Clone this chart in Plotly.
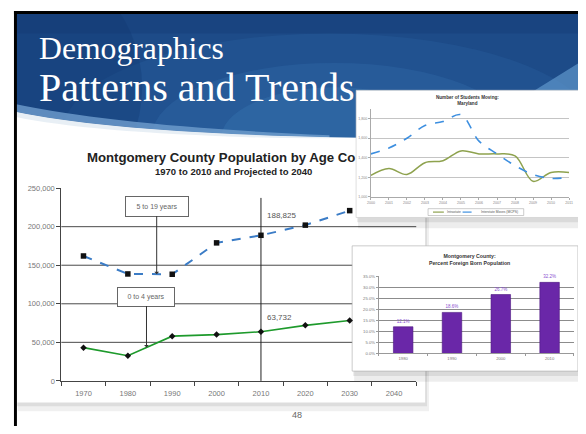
import plotly.graph_objects as go

# the page body adds an 8px margin on every side; keep the page at 586x434
OFF = 8
W, H = 586 - 2 * OFF, 434 - 2 * OFF

# Montgomery County population by age cohort (main chart)
years = [1970, 1980, 1990, 2000, 2010, 2020, 2030, 2040]
age_5_19 = [162000, 138700, 138300, 179000, 188825, 202000, 220800]
age_0_4 = [43100, 32600, 58000, 60000, 63732, 72000, 78300]
pop_ticks = [0, 50000, 100000, 150000, 200000, 250000]

# Number of students moving, Maryland (top inset)
move_years = ["2000", "2001", "2002", "2003", "2004", "2005",
              "2006", "2007", "2008", "2009", "2010", "2011"]
move_out = [1440, 1500, 1600, 1730, 1770, 1840, 1570, 1440, 1320, 1230, 1190, 1200]
move_in = [1220, 1290, 1230, 1350, 1370, 1470, 1440, 1440, 1420, 1160, 1250, 1250]
move_ticks = [1000, 1200, 1400, 1600, 1800]
move_names = ["Intrastate", "Interstate Moves (MCPS)"]

# Percent foreign born population (bottom inset)
foreign_years = ["1980", "1990", "2000", "2010"]
foreign_pct = [12.1, 18.6, 26.7, 32.2]

SANS = "Liberation Sans, Arial, sans-serif"
SERIF = "Liberation Serif, Times New Roman, serif"


def fx(x):
    return (x - OFF) / W


def fy(y):
    return 1 - (y - OFF) / H


def rect(x0, y0, x1, y1, fill, opacity=1, line_color=None, line_width=0, layer="below"):
    return dict(
        type="rect", xref="paper", yref="paper",
        x0=fx(x0), x1=fx(x1), y0=fy(y1), y1=fy(y0),
        fillcolor=fill, opacity=opacity, layer=layer,
        line=dict(width=line_width, color=line_color or "rgba(0,0,0,0)"),
    )


def ellipse(x0, y0, x1, y1, fill, opacity):
    return dict(
        type="circle", xref="paper", yref="paper",
        x0=fx(x0), x1=fx(x1), y0=fy(y1), y1=fy(y0),
        fillcolor=fill, opacity=opacity, layer="below", line=dict(width=0),
    )


def path(fill, *items, opacity=1):
    parts = []
    for item in items:
        if isinstance(item, str):
            parts.append(item)
        else:
            parts.append(f"{fx(item[0]):.4f},{fy(item[1]):.4f}")
    return dict(
        type="path", xref="paper", yref="paper", path=" ".join(parts),
        fillcolor=fill, opacity=opacity, layer="below", line=dict(width=0),
    )


def hline(x0, x1, y, color, width=1, dash="solid", layer="below"):
    return dict(
        type="line", xref="paper", yref="paper",
        x0=fx(x0), x1=fx(x1), y0=fy(y), y1=fy(y),
        line=dict(color=color, width=width, dash=dash), layer=layer,
    )


def text(s, x, y, size, color, family=SANS, xanchor="center"):
    return dict(text=s, x=fx(x), y=fy(y), xref="paper", yref="paper",
                xanchor=xanchor, yanchor="middle", showarrow=False,
                font=dict(family=family, size=size, color=color))


def interp(xs, ys, x):
    for i in range(len(ys) - 1):
        if xs[i] <= x <= xs[i + 1]:
            t = (x - xs[i]) / (xs[i + 1] - xs[i])
            return ys[i] + t * (ys[i + 1] - ys[i])
    return ys[-1]


fig = go.Figure()

# main chart
fig.add_trace(go.Scatter(
    x=years[:len(age_5_19)], y=age_5_19, mode="lines+markers",
    line=dict(color="#3b7cc6", width=2, dash="dash"),
    marker=dict(symbol="square", size=5.5, color="#111111"),
    xaxis="x", yaxis="y", cliponaxis=False,
))
fig.add_trace(go.Scatter(
    x=years[:len(age_0_4)], y=age_0_4, mode="lines+markers",
    line=dict(color="#1e9a2c", width=1.6),
    marker=dict(symbol="diamond", size=5, color="#111111"),
    xaxis="x", yaxis="y", cliponaxis=False,
))

# top inset
fig.add_trace(go.Scatter(
    x=move_years, y=move_in, mode="lines", name=move_names[0],
    line=dict(color="#8ea24e", width=1.5, shape="spline", smoothing=1.0),
    xaxis="x2", yaxis="y2",
))
fig.add_trace(go.Scatter(
    x=move_years, y=move_out, mode="lines", name=move_names[1],
    line=dict(color="#3d8fe0", width=1.6, dash="dash", shape="spline", smoothing=1.0),
    xaxis="x2", yaxis="y2",
))

# bottom inset
fig.add_trace(go.Bar(
    x=foreign_years, y=foreign_pct,
    marker=dict(color="#6a27a8", line=dict(color="#4b1680", width=0.6)),
    text=[f"{v:.1f}%" for v in foreign_pct], textposition="outside",
    textfont=dict(size=4.5, color="#8a4fd0", family=SANS),
    xaxis="x3", yaxis="y3", cliponaxis=False,
))

shapes = [
    # header
    rect(11, 9, 583, 150, "#1d4b88"),
    ellipse(60, 30, 600, 230, "#2b63a3", 0.3),
    ellipse(150, 60, 520, 210, "#3471ae", 0.3),
    ellipse(220, 85, 450, 190, "#3d7db9", 0.3),
    ellipse(-160, -60, 140, 230, "#123a72", 0.35),
    rect(11, 9, 583, 30, "#102f66", opacity=0.25),
    # white slide area under the header curve
    path("#ffffff", "M", (11, 110), "Q", (110, 131), (330, 136), "L", (583, 140),
         "L", (583, 434), "L", (11, 434), "Z"),
    # swoosh highlight
    path("#6f9dcd", "M", (11, 102), "Q", (120, 125), (330, 134), "L", (330, 136),
         "Q", (110, 131), (11, 110), "Z", opacity=0.8),
    path("#e6edf4", "M", (11, 110), "Q", (110, 131), (330, 136), "L", (330, 138),
         "Q", (100, 134), (11, 115), "Z", opacity=0.9),
    path("#5f97cc", "M", (535, 90), "L", (583, 60), "L", (583, 90), "Z", opacity=0.7),
    # mask anything outside the slide frame
    rect(0, 0, 11, 434, "#ffffff"),
    rect(0, 0, 590, 8, "#ffffff"),
    # main chart panel with shadow
    rect(14, 141, 431, 416, "#000000", opacity=0.06),
    rect(13, 139, 429, 411, "#000000", opacity=0.08),
    rect(12, 137, 427, 407, "#ffffff"),
]

# main gridlines
for v in pop_ticks[1:-1]:
    shapes.append(dict(
        type="line", xref="paper", yref="y", x0=fx(58), x1=fx(418), y0=v, y1=v,
        line=dict(color="#4a4a4a", width=1), layer="below",
    ))
# 2010 divider
shapes.append(dict(
    type="line", xref="x", yref="paper", x0=2010, x1=2010, y0=fy(385), y1=fy(198),
    line=dict(color="#222222", width=1), layer="below",
))

shapes += [
    # top inset
    rect(359, 90, 585, 229, "#000000", opacity=0.07),
    rect(358, 89, 584, 223, "#000000", opacity=0.08),
    rect(357, 88, 583, 218, "#ffffff", line_color="#c9c9c9", line_width=0.6),
    # top inset legend
    rect(430, 209, 527, 216, "#ffffff", line_color="#9a9a9a", line_width=0.5),
    hline(435, 446, 212.5, "#8ea24e", 1.2),
    hline(465, 481, 212.5, "#3d8fe0", 1.2, dash="dash"),
    # bottom inset
    rect(355, 249, 585, 386, "#000000", opacity=0.07),
    rect(354, 248, 584, 380, "#000000", opacity=0.08),
    rect(353, 247, 582, 375, "#ffffff", line_color="#a8a8a8", line_width=0.6),
    # slide frame
    rect(10, 7, 586, 10, "#000000", layer="above"),
    rect(10, 7, 13, 434, "#000000", layer="above"),
]

label_5_19_x = 1986.5
label_0_4_x = 1984.2

annotations = [
    text("Demographics", 33, 45, 31.7, "#ffffff", SERIF, "left"),
    text("Patterns and Trends", 33, 85, 40, "#ffffff", SERIF, "left"),
    text("<b>Montgomery County Population by Age Co</b>", 82, 157, 13.2, "#222222",
         xanchor="left"),
    text("<b>1970 to 2010 and Projected to 2040</b>", 233, 171, 9.5, "#222222"),
    dict(text="5 to 19 years", x=label_5_19_x, y=interp(years, age_5_19, label_5_19_x),
         xref="x", yref="y", ax=0, ay=-68, showarrow=True, arrowhead=1, arrowsize=0.8,
         arrowwidth=1, arrowcolor="#333333", bgcolor="#ffffff", bordercolor="#666666",
         borderwidth=1, width=60, height=17, font=dict(family=SANS, size=7, color="#666666")),
    dict(text="0 to 4 years", x=label_0_4_x, y=interp(years, age_0_4, label_0_4_x),
         xref="x", yref="y", ax=0, ay=-51, showarrow=True, arrowhead=1, arrowsize=0.8,
         arrowwidth=1, arrowcolor="#333333", bgcolor="#ffffff", bordercolor="#666666",
         borderwidth=1, width=54, height=16, font=dict(family=SANS, size=7, color="#666666")),
    dict(text=f"{age_5_19[4]:,}", x=years[4], y=age_5_19[4], xref="x", yref="y",
         xanchor="left", xshift=4, yshift=20, showarrow=False,
         font=dict(family=SANS, size=8, color="#555555")),
    dict(text=f"{age_0_4[4]:,}", x=years[4], y=age_0_4[4], xref="x", yref="y",
         xanchor="left", xshift=4, yshift=14, showarrow=False,
         font=dict(family=SANS, size=8, color="#555555")),
    # top inset
    text("<b>Number of Students Moving:<br>Maryland</b>", 470, 98, 4.6, "#333333"),
    text(move_names[0], 447, 212.5, 3.3, "#555555", xanchor="left"),
    text(move_names[1], 482, 212.5, 3.3, "#555555", xanchor="left"),
    # bottom inset
    text("<b>Montgomery County:<br>Percent Foreign Born Population</b>", 472, 261, 5.2,
         "#333333"),
    # page number
    text("48", 297, 420, 9, "#666666"),
]

fig.update_layout(
    width=W, height=H,
    margin=dict(l=0, r=0, t=0, b=0),
    paper_bgcolor="#ffffff",
    plot_bgcolor="rgba(0,0,0,0)",
    showlegend=False,
    hovermode=False,
    bargap=0.6,
    shapes=shapes,
    annotations=annotations,
    xaxis=dict(
        domain=[fx(58), fx(418)], range=[1965, 2045],
        tickvals=years, ticks="", showgrid=False, zeroline=False,
        showline=True, linecolor="#444444", linewidth=1, ticklabelstandoff=5,
        tickfont=dict(family=SANS, size=7.5, color="#777777"),
        minor=dict(tickvals=[y - 5 for y in years] + [2045], ticks="outside",
                   ticklen=4, tickcolor="#444444", showgrid=False),
    ),
    yaxis=dict(
        domain=[fy(385), fy(188)], range=[0, 250000],
        tickvals=pop_ticks, tickformat=",", ticks="outside", ticklen=4,
        tickcolor="#444444", showgrid=False, zeroline=False,
        showline=True, linecolor="#444444", linewidth=1,
        tickfont=dict(family=SANS, size=7.5, color="#777777"),
    ),
    xaxis2=dict(
        domain=[fx(372), fx(573)], type="category", range=[0, 11], anchor="y2",
        showgrid=False, zeroline=False, showline=True, linecolor="#aaaaaa",
        ticks="outside", ticklen=2, tickcolor="#aaaaaa",
        tickfont=dict(family=SANS, size=3.6, color="#888888"),
    ),
    yaxis2=dict(
        domain=[fy(197), fy(107)], range=[1000, 1900], tickvals=move_ticks, anchor="x2",
        tickformat=",", showgrid=True, gridcolor="#c4c4c4", gridwidth=0.8,
        zeroline=False, showline=True, linecolor="#aaaaaa",
        ticks="outside", ticklen=2, tickcolor="#aaaaaa",
        tickfont=dict(family=SANS, size=3.6, color="#888888"),
    ),
    xaxis3=dict(
        domain=[fx(380), fx(578)], type="category", range=[-0.5, 3.5], anchor="y3",
        showgrid=False, zeroline=False, showline=True, linecolor="#999999",
        ticks="outside", ticklen=2, tickcolor="#999999", tickson="boundaries",
        tickfont=dict(family=SANS, size=4.2, color="#777777"),
    ),
    yaxis3=dict(
        domain=[fy(357), fy(278)], range=[0, 35], dtick=5, anchor="x3",
        tickformat=".1f", ticksuffix="%", showgrid=True, gridcolor="#8c8c8c",
        gridwidth=0.7, zeroline=False, showline=True, linecolor="#999999",
        ticks="outside", ticklen=2, tickcolor="#999999",
        tickfont=dict(family=SANS, size=4.2, color="#777777"),
    ),
)

fig.write_html("out.html")
